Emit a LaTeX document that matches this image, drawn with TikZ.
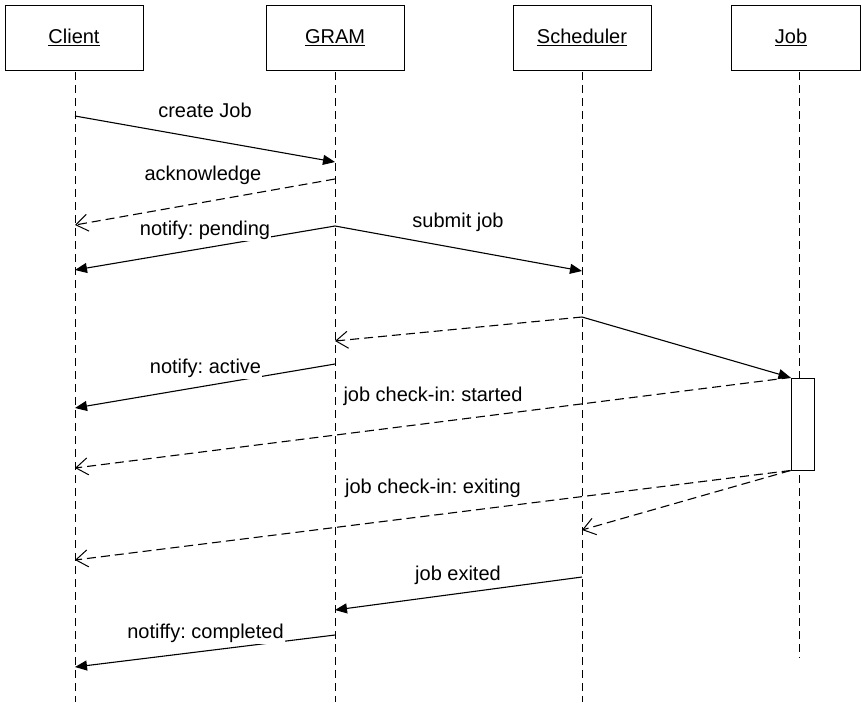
\documentclass[tikz,border=0pt]{standalone}
\usepackage{fontspec}
\setmainfont{Liberation Sans}
\usetikzlibrary{arrows.meta}
\frenchspacing
\begin{document}
\begin{tikzpicture}[x=1pt,y=-1pt,
  every node/.style={font=\fontsize{20}{24}\selectfont},
  headbox/.style={draw,line width=1pt,minimum width=138pt,minimum height=65pt,inner sep=0pt},
  lifeline/.style={line width=1pt,dash pattern=on 8pt off 5pt},
  call/.style={line width=1.1pt,-{Triangle[length=12pt,width=10pt]}},
  reply/.style={line width=1.1pt,dash pattern=on 9pt off 5pt,-{Straight Barb[length=12pt,width=17pt,line width=1pt]}},
  msglabel/.style={fill=white,inner xsep=1pt,inner ysep=2pt,text height=14pt,text depth=4pt},
  actbox/.style={draw,fill=white,line width=1pt,minimum width=23pt,minimum height=92pt,inner sep=0pt}
]
\useasboundingbox (0,0) rectangle (861,702);

% header boxes
\node[headbox] (client) at (74,37.5) {\underline{Client}};
\node[headbox] (gram) at (335,37.5) {\underline{GRAM}};
\node[headbox] (sched) at (582,37.5) {\underline{Scheduler}};
\node[headbox,minimum width=129pt] (job) at (795.5,37.5) {\underline{Job}\kern9pt};

% lifeline ends
\coordinate (clientTop) at (75,72);
\coordinate (gramTop) at (335,72);
\coordinate (schedTop) at (582,72);
\coordinate (jobTop) at (799,72);
\coordinate (clientEnd) at (75,702);
\coordinate (gramEnd) at (335,702);
\coordinate (schedEnd) at (582,702);
\coordinate (jobEnd) at (799,658);

\draw[lifeline] (clientTop) -- (clientEnd);
\draw[lifeline] (gramTop) -- (gramEnd);
\draw[lifeline] (schedTop) -- (schedEnd);
\draw[lifeline] (jobTop) -- (jobEnd);

% activation box
\node[actbox] (act) at (802.5,424) {};

% message points
\coordinate (c1) at (75,116);   \coordinate (g1) at (335,162);
\coordinate (g2) at (335,179);  \coordinate (c2) at (75,225);
\coordinate (g3) at (335,226);  \coordinate (c3) at (75,270);
\coordinate (s4) at (582,271);
\coordinate (s5) at (582,317);  \coordinate (g5) at (335,341);
\coordinate (g7) at (335,364);  \coordinate (c7) at (75,408);
\coordinate (c8) at (75,468);
\coordinate (c9) at (75,560);
\coordinate (s10) at (582,530);
\coordinate (s11) at (582,577); \coordinate (g11) at (335,610);
\coordinate (g12) at (335,635); \coordinate (c12) at (75,667);

% messages
\draw[call] (c1) -- (g1);
\draw[reply] (g2) -- (c2);
\draw[call] (g3) -- (c3);
\draw[call] (g3) -- (s4);
\draw[reply] (s5) -- (g5);
\draw[call] (s5) -- (act.north west);
\draw[call] (g7) -- (c7);
\draw[reply] (act.north west) -- (c8);
\draw[reply] (act.south west) -- (c9);
\draw[reply] (act.south west) -- (s10);
\draw[call] (s11) -- (g11);
\draw[call] (g12) -- (c12);

% labels
\node[msglabel] (l1) at (205,112) {create Job};
\node[msglabel] (l2) at (203,175) {acknowledge};
\node[msglabel] (l3) at (205,230) {notify: pending};
\node[msglabel] (l4) at (458,222) {submit job};
\node[msglabel] (l7) at (205.5,368) {notify: active};
\node[msglabel] (l8) at (433,396) {job check-in: started};
\node[msglabel] (l9) at (433,488) {job check-in: exiting};
\node[msglabel] (l11) at (458,575) {job exited};
\node[msglabel] (l12) at (205.5,633) {notiffy: completed};
\end{tikzpicture}
\end{document}
